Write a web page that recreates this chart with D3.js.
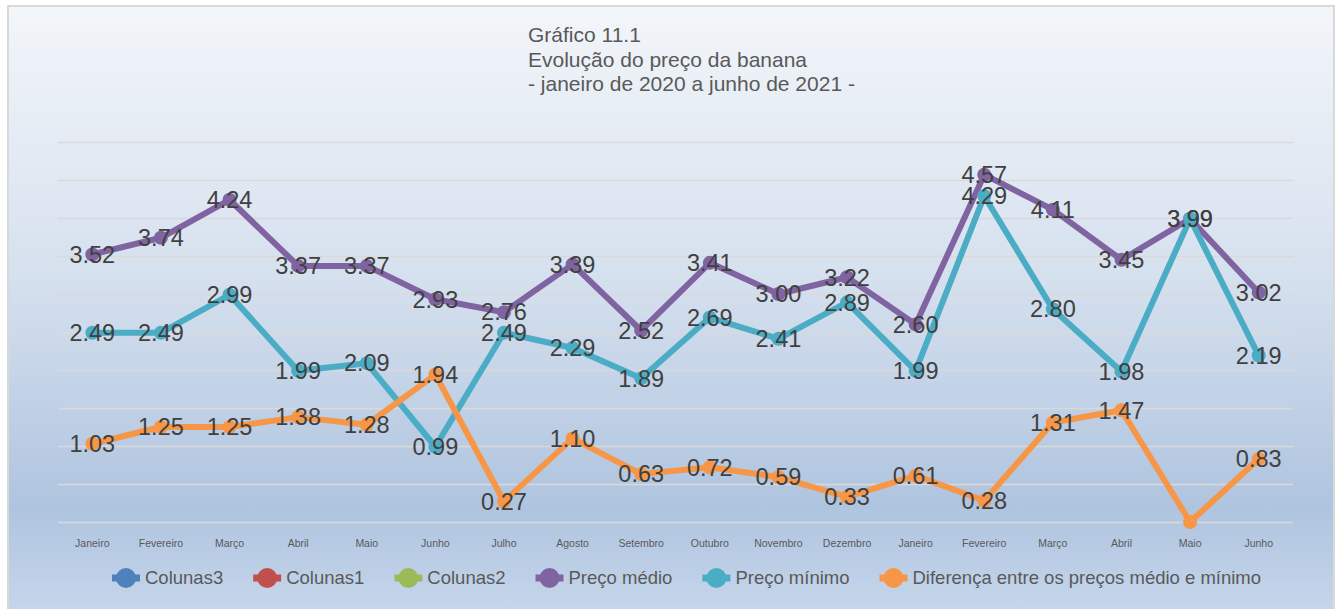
<!DOCTYPE html>
<html>
<head>
<meta charset="utf-8">
<script src="https://cdn.jsdelivr.net/npm/d3@7"></script>
<style>
  body { margin: 0; background: #fff; }
  svg { display: block; font-family: "Liberation Sans", Arial, sans-serif; }
</style>
</head>
<body>
<svg id="chart" width="1337" height="609"></svg>
<script>
// Data
const months = ["Janeiro", "Fevereiro", "Março", "Abril", "Maio", "Junho", "Julho", "Agosto", "Setembro",
  "Outubro", "Novembro", "Dezembro", "Janeiro", "Fevereiro", "Março", "Abril", "Maio", "Junho"];
const precoMedio = [3.52, 3.74, 4.24, 3.37, 3.37, 2.93, 2.76, 3.39, 2.52, 3.41, 3.00, 3.22, 2.60, 4.57, 4.11, 3.45, 3.99, 3.02];
const precoMinimo = [2.49, 2.49, 2.99, 1.99, 2.09, 0.99, 2.49, 2.29, 1.89, 2.69, 2.41, 2.89, 1.99, 4.29, 2.80, 1.98, 3.99, 2.19];
const diferenca = [1.03, 1.25, 1.25, 1.38, 1.28, 1.94, 0.27, 1.10, 0.63, 0.72, 0.59, 0.33, 0.61, 0.28, 1.31, 1.47, 0, 0.83];
// label shown for each orange point (the zero in May has none)
const diferencaLabels = diferenca.map(v => v === 0 ? "" : v.toFixed(2));
const titleLines = ["Gráfico 11.1", "Evolução do preço da banana", "- janeiro de 2020 a junho de 2021 -"];
const legendNames = ["Colunas3", "Colunas1", "Colunas2", "Preço médio", "Preço mínimo", "Diferença entre os preços médio e mínimo"];
const legendColors = ["#4f81bd", "#c0504d", "#9bbb59", "#8064a2", "#4bacc6", "#f79646"];

const svg = d3.select("#chart");

// Background gradient
const defs = svg.append("defs");
const grad = defs.append("linearGradient")
  .attr("id", "bg")
  .attr("x1", 0).attr("y1", 0).attr("x2", 0).attr("y2", 1);
grad.append("stop").attr("offset", "0%").attr("stop-color", "#f3f6fa");
grad.append("stop").attr("offset", "45%").attr("stop-color", "#d5e0ee");
grad.append("stop").attr("offset", "82%").attr("stop-color", "#afc4df");
grad.append("stop").attr("offset", "100%").attr("stop-color", "#c7d7ec");

svg.append("rect")
  .attr("x", 8).attr("y", 6)
  .attr("width", 1326).attr("height", 612)
  .attr("fill", "url(#bg)")
  .attr("stroke", "#d9d9d9")
  .attr("stroke-width", 2);

// Title
svg.append("text")
  .attr("x", 528).attr("y", 42)
  .attr("fill", "#595959")
  .style("font-size", "21px")
  .selectAll("tspan")
  .data(titleLines)
  .join("tspan")
  .attr("x", 528)
  .attr("dy", (d, i) => i === 0 ? 0 : 24.5)
  .text(d => d);

// Scales
const x = d3.scaleBand().domain(d3.range(months.length)).range([58, 1293]).padding(0);
const y = d3.scaleLinear().domain([0, 5]).range([522, 142]);
const cx = i => x(i) + x.bandwidth() / 2;

// Gridlines
const grid = svg.append("g")
  .attr("transform", "translate(58,0)")
  .call(d3.axisLeft(y).tickValues(d3.range(0, 5.01, 0.5)).tickSize(-1235).tickFormat(""));
grid.select(".domain").remove();
grid.selectAll("line").attr("stroke", "#d9d9d9").attr("stroke-width", 1.6);

// X axis labels
const xAxis = svg.append("g")
  .attr("transform", "translate(0,522)")
  .call(d3.axisBottom(x).tickSize(0).tickPadding(18).tickFormat(i => months[i]));
xAxis.select(".domain").remove();
xAxis.selectAll("text")
  .attr("fill", "#595959")
  .style("font-size", "10.5px")
  .style("font-family", "'Liberation Sans', Arial, sans-serif");

// Series
const series = [
  { values: precoMedio, color: "#8064a2", labels: precoMedio.map(v => v.toFixed(2)) },
  { values: precoMinimo, color: "#4bacc6", labels: precoMinimo.map(v => v.toFixed(2)) },
  { values: diferenca, color: "#f79646", labels: diferencaLabels }
];

const line = d3.line().x((d, i) => cx(i)).y(d => y(d));

series.forEach(s => {
  const g = svg.append("g");
  g.append("path")
    .attr("d", line(s.values))
    .attr("fill", "none")
    .attr("stroke", s.color)
    .attr("stroke-width", 6)
    .attr("stroke-linejoin", "round");
  g.selectAll("circle")
    .data(s.values)
    .join("circle")
    .attr("cx", (d, i) => cx(i))
    .attr("cy", d => y(d))
    .attr("r", 7)
    .attr("fill", s.color);
});

// Data labels, centered on points
series.forEach(s => {
  svg.append("g")
    .selectAll("text")
    .data(s.values)
    .join("text")
    .attr("x", (d, i) => cx(i))
    .attr("y", d => y(d))
    .attr("dy", "0.35em")
    .attr("text-anchor", "middle")
    .attr("fill", "#404040")
    .style("font-size", "23.5px")
    .text((d, i) => s.labels[i]);
});

// Legend
const legend = svg.append("g").attr("transform", "translate(0,578)");
let lx = 112;
legendNames.forEach((name, i) => {
  const item = legend.append("g").attr("transform", `translate(${lx},0)`);
  item.append("line")
    .attr("x1", 0).attr("x2", 28)
    .attr("stroke", legendColors[i])
    .attr("stroke-width", 7);
  item.append("circle")
    .attr("cx", 14).attr("r", 10)
    .attr("fill", legendColors[i]);
  const t = item.append("text")
    .attr("x", 33).attr("dy", "0.35em")
    .attr("fill", "#595959")
    .style("font-size", "18.5px")
    .text(name);
  lx += 33 + t.node().getComputedTextLength() + 30;
});
</script>
</body>
</html>
